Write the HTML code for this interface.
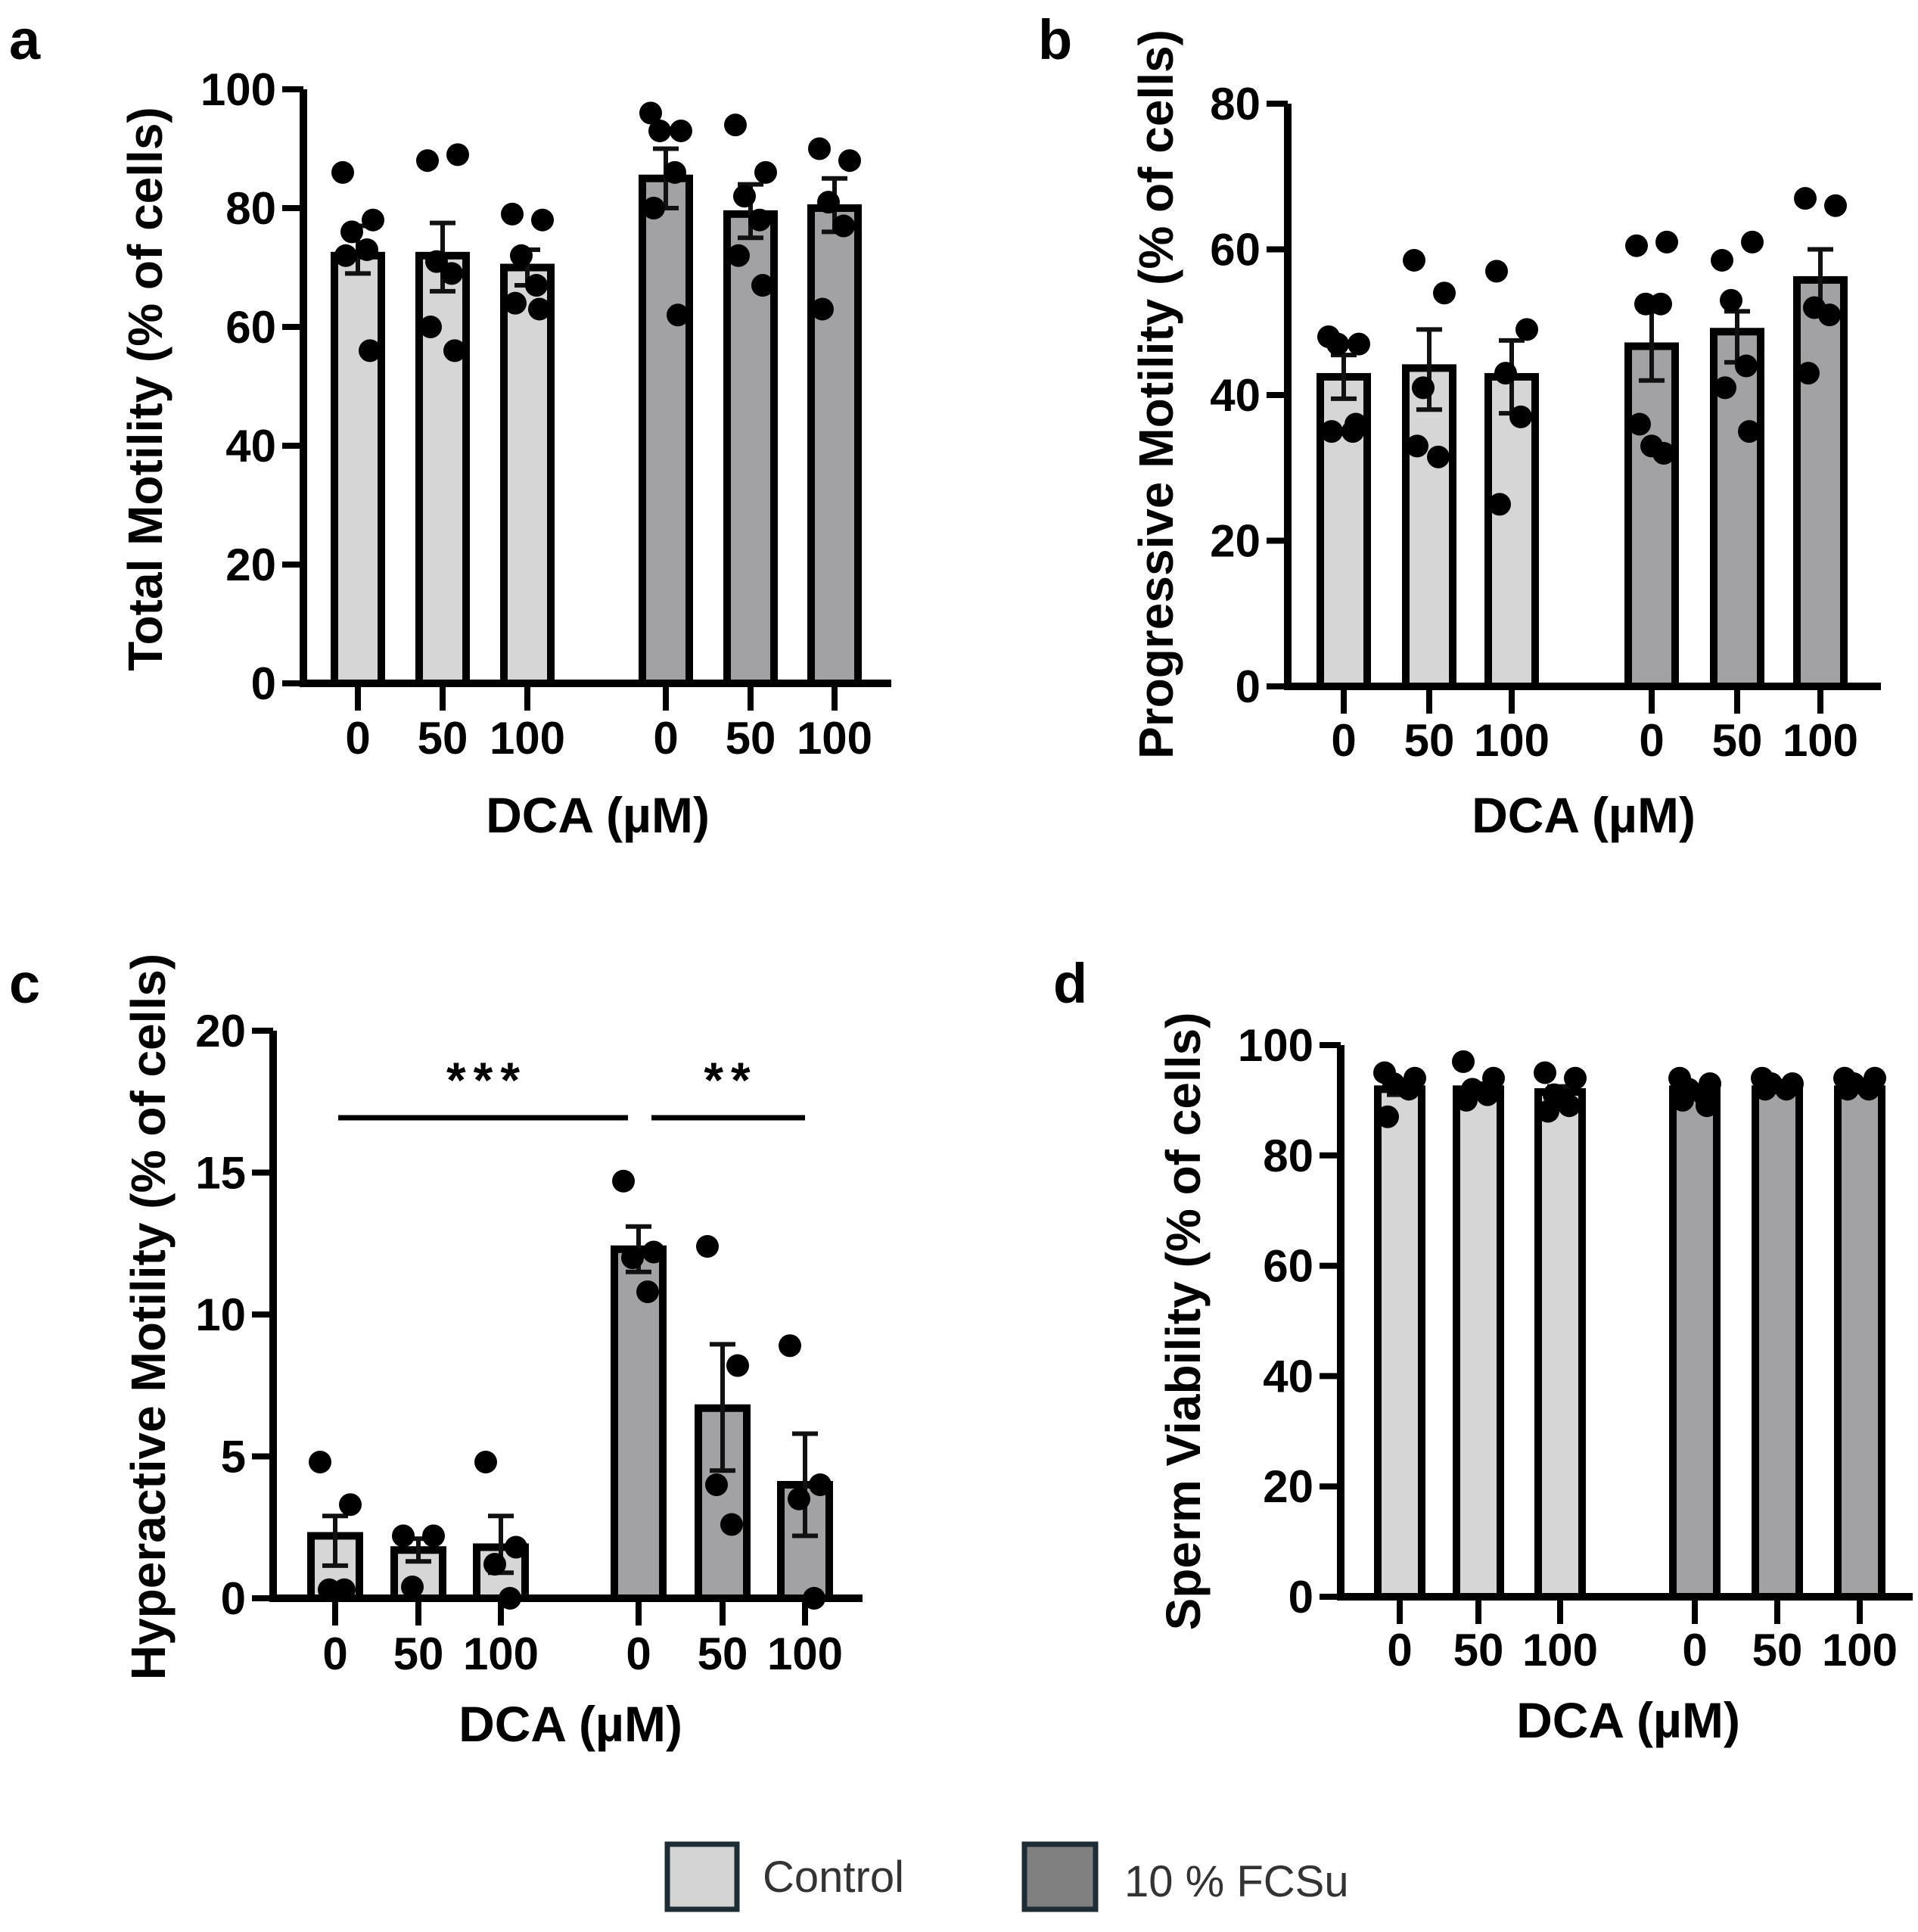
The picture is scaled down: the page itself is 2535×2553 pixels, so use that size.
<!DOCTYPE html>
<html><head><meta charset="utf-8"><style>
html,body{margin:0;padding:0;background:#fff;}
svg{display:block;}
text{font-family:"Liberation Sans",Arial,sans-serif;}
</style></head><body>
<svg id="fig" xmlns="http://www.w3.org/2000/svg" width="2535" height="2553" viewBox="0 0 2535 2553">
<rect width="2535" height="2553" fill="#fff"/>
<text x="12" y="78" font-size="74" font-weight="bold">a</text>
<text x="1372" y="78" font-size="74" font-weight="bold">b</text>
<text x="12" y="1325" font-size="74" font-weight="bold">c</text>
<text x="1392" y="1325" font-size="74" font-weight="bold">d</text>
<g>
<rect x="882" y="2437" width="92" height="86" fill="#d4d4d4" stroke="#1e2c36" stroke-width="7"/>
<text x="1008" y="2500" font-size="58" fill="#333">Control</text>
<rect x="1354" y="2437" width="94" height="86" fill="#808080" stroke="#1e2c36" stroke-width="7"/>
<text x="1486" y="2506" font-size="58" fill="#333">10 % FCSu</text>
</g>
</svg>
<script>
const categories = ["0","50","100","0","50","100"];
const groups = ["Control","Control","Control","10 % FCSu","10 % FCSu","10 % FCSu"];
const aTicks = [0,20,40,60,80,100];
const aMeans = [72,72,70,85,79,80];
const aErrHi = [77,77.5,73,90,84,85];
const aErrLo = [69,66,67,80,75,76];
const aPoints = [[86,78,76,73,72,56],[88,89,71,69,60,56],[79,78,72,67,64,63],[96,93,93,86,80,62],[94,86,82,78,72,67],[90,88,81,77,63]];
const bTicks = [0,20,40,60,80];
const bMeans = [42.5,43.7,42.5,46.7,48.7,55.8];
const bErrHi = [45.5,49,47.5,51.5,51.5,60];
const bErrLo = [39.5,38,37.5,42,44.5,51.5];
const bPoints = [[48,47,47,35,35,36],[58.5,54,41,31.5,33],[57,49,43,37,25],[60.5,61,52.5,52.5,36,32,33],[58.5,61,53,44,41,35],[67,66,52,51,43]];
const cTicks = [0,5,10,15,20];
const cMeans = [2.2,1.7,1.8,12.3,6.7,4.0];
const cErrHi = [2.9,2.1,2.9,13.1,8.95,5.8];
const cErrLo = [1.15,1.3,0.9,11.5,4.5,2.2];
const cPoints = [[4.8,3.3,0.3,0.3],[2.2,2.2,0.4],[4.8,1.8,1.2,0],[14.7,12.2,12.0,10.8],[12.4,8.2,4.0,2.6],[8.9,4.0,3.5,0]];
const dTicks = [0,20,40,60,80,100];
const dMeans = [92,92,91.5,92,92,92];
const dErrHi = [93,93,92.5,92.5,92.5,92.5];
const dErrLo = [91,91,90.5,91.5,91.5,91.5];
const dPoints = [[95,94,93,92,87],[97,94,92,91,90],[95,94,91,89,88],[94,93,92,91,90,89],[94,93,93,92,92],[94,94,93,92,92]];
const cSigLabels = ["***","**"];

const NS="http://www.w3.org/2000/svg";
const svg=document.getElementById('fig');
function mk(tag,attrs,parent){const e=document.createElementNS(NS,tag);for(const k in attrs)e.setAttribute(k,attrs[k]);(parent||svg).appendChild(e);return e;}

function panel(cfg){
  const g=mk('g',{});
  
  
  const y=v=>cfg.y0-(v/cfg.max)*(cfg.y0-cfg.yTop);
  const x=i=>cfg.xs[i];
  cfg.means.forEach((m,i)=>{
    const r=mk('rect',{x:x(i)-cfg.bw/2+5,y:y(m),width:cfg.bw-10,height:cfg.y0-y(m),fill:i<3?'#d6d6d6':'#a2a2a5',stroke:'#000','stroke-width':10},g);
    
    
  });
  cfg.means.forEach((m,i)=>{
    const e=mk('path',{d:`M${x(i)} ${y(cfg.hi[i])}V${y(cfg.lo[i])}M${x(i)-17} ${y(cfg.hi[i])}H${x(i)+17}M${x(i)-17} ${y(cfg.lo[i])}H${x(i)+17}`,stroke:'#111','stroke-width':6,fill:'none'},g);
    
    
  });
  const jit=[-20,20,-8,12,-16,16,0];
  cfg.pts.forEach((arr,i)=>{
    arr.forEach((v,j)=>{
      const c=mk('circle',{cx:x(i)+jit[j%jit.length],cy:y(v),r:15,fill:'#000'},g);
      
      
    });
  });
  const ax=mk('path',{d:`M${cfg.ax} ${cfg.yTop}V${cfg.y0}H${cfg.xEnd}`,stroke:'#000','stroke-width':10,fill:'none'},g);
  
  
  cfg.ticks.forEach(t=>{
    mk('path',{d:`M${cfg.ax-28} ${y(t)}H${cfg.ax}`,stroke:'#000','stroke-width':8},g);
    const tl=mk('text',{x:cfg.ax-36,y:y(t)+21,'font-size':60,'font-weight':'bold','text-anchor':'end'},g);
    tl.textContent=t;
    
    
  });
  categories.forEach((c,i)=>{
    mk('path',{d:`M${x(i)} ${cfg.y0}V${cfg.y0+36}`,stroke:'#000','stroke-width':8},g);
    const tl=mk('text',{x:x(i),y:cfg.tickY,'font-size':60,'font-weight':'bold','text-anchor':'middle'},g);
    tl.textContent=c;
    
    
  });
  const xt=mk('text',{x:cfg.xtX,y:cfg.xtY,'font-size':66,'font-weight':'bold','text-anchor':'middle'},g);
  xt.textContent='DCA (µM)';
  
  
  const yt=mk('text',{x:0,y:0,'font-size':64,'font-weight':'bold','text-anchor':'middle',transform:`translate(${cfg.ytX} ${cfg.ytY}) rotate(-90)`},g);
  yt.textContent=cfg.ytitle;
  
  
  return {g,x,y};
}

panel({name:'panel-a-total-motility',key:'a',ax:401,y0:903,yTop:118,max:100,xEnd:1178,xs:[473,585,697,880,992,1103],bw:72,
  means:aMeans,hi:aErrHi,lo:aErrLo,pts:aPoints,ticks:aTicks,tickY:996,xtX:790,xtY:1100,ytX:214,ytY:514,ytitle:'Total Motility (% of cells)'});
panel({name:'panel-b-progressive-motility',key:'b',ax:1702,y0:907,yTop:137,max:80,xEnd:2486,xs:[1776,1889,1998,2183,2296,2406],bw:72,
  means:bMeans,hi:bErrHi,lo:bErrLo,pts:bPoints,ticks:bTicks,tickY:999,xtX:2093,xtY:1100,ytX:1550,ytY:521,ytitle:'Progressive Motility (% of cells)'});
const pc=panel({name:'panel-c-hyperactive-motility',key:'c',ax:361,y0:2112,yTop:1362,max:20,xEnd:1140,xs:[443,553,662,844,955,1064],bw:74,
  means:cMeans,hi:cErrHi,lo:cErrLo,pts:cPoints,ticks:cTicks,tickY:2206,xtX:754,xtY:2301,ytX:218,ytY:1740,ytitle:'Hyperactive Motility (% of cells)'});
panel({name:'panel-d-sperm-viability',key:'d',ax:1772,y0:2110,yTop:1381,max:100,xEnd:2528,xs:[1850,1954,2062,2240,2349,2458],bw:68,
  means:dMeans,hi:dErrHi,lo:dErrLo,pts:dPoints,ticks:dTicks,tickY:2201,xtX:2152,xtY:2296,ytX:1586,ytY:1746,ytitle:'Sperm Viability (% of cells)'});

const s1=mk('path',{d:`M${pc.x(0)+4} 1477H${pc.x(3)-14}`,stroke:'#000','stroke-width':7});


const s2=mk('path',{d:`M${pc.x(3)+17} 1477H${pc.x(5)}`,stroke:'#000','stroke-width':7});


const st1=mk('text',{x:(pc.x(0)+pc.x(3))/2,y:1450,'font-size':66,'font-weight':'bold','text-anchor':'middle','letter-spacing':'10'});
st1.textContent=cSigLabels[0];


const st2=mk('text',{x:(pc.x(3)+pc.x(5))/2+12,y:1450,'font-size':66,'font-weight':'bold','text-anchor':'middle','letter-spacing':'10'});
st2.textContent=cSigLabels[1];


</script>
</body></html>
